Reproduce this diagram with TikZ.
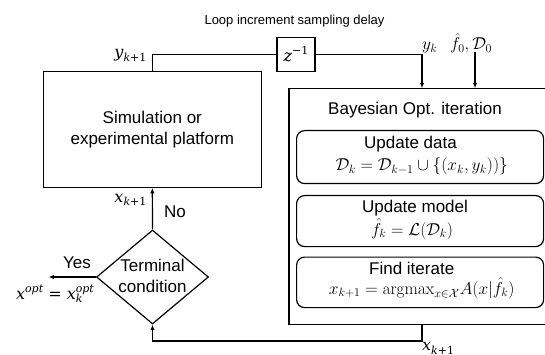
\documentclass[tikz,border=0pt]{standalone}
\usepackage[no-math]{fontspec}
\setmainfont{Liberation Sans}
\newfontfamily\camfont{DejaVu Serif}
\usetikzlibrary{arrows.meta,shapes.geometric}
\newcommand{\csup}[1]{\raisebox{6.5pt}{\fontsize{11}{12}\selectfont #1}}
\newcommand{\csub}[1]{\raisebox{-3.8pt}{\fontsize{11}{12}\selectfont #1}}
\tikzset{
  txt/.style={font=\fontsize{17}{20.5}\selectfont, inner sep=0pt, align=center},
  mth/.style={font=\fontsize{17.8}{21}\selectfont, inner sep=0pt},
  cam/.style={font=\camfont\fontsize{16}{18}\selectfont, inner sep=0pt},
  sqbox/.style={draw, inner sep=0pt},
  rbox/.style={draw, rounded corners=8pt, inner sep=0pt, minimum width=247pt, anchor=north west},
  ln/.style={line width=1.2pt},
  arr/.style={line width=1.2pt, -{Latex[length=5.5pt,width=4.5pt]}},
}
\begin{document}
\begin{tikzpicture}[x=1pt,y=-1pt, line width=1.2pt]
\useasboundingbox (0,0) rectangle (545,355);
\clip (0,0) rectangle (545,355);
% boxes
\node[sqbox, txt, minimum width=218pt, minimum height=115.6pt] (sim) at (152.3,129.5) {Simulation or\\experimental platform};
\node[sqbox, minimum width=280pt, minimum height=235.7pt, anchor=north west] (bo) at (288.3,88.3) {};
\node[sqbox, cam, minimum width=38pt, minimum height=34pt] (z) at (296,54.3) {\itshape z\upshape\csup{\char"2212 1}};
\node[rbox, minimum height=53pt] (ud) at (296,130) {};
\node[rbox, minimum height=51pt] (um) at (296,195) {};
\node[rbox, minimum height=50.5pt] (fi) at (296,256.5) {};
\node[draw, diamond, minimum width=112pt, minimum height=94pt, inner sep=0pt] (dia) at (152.5,277) {};
% texts
\node[font=\fontsize{13}{15}\selectfont, inner sep=0pt, anchor=base] (loop) at (294.5,25) {Loop increment sampling delay};
\node[txt, anchor=base] (bay) at (415,115) {Bayesian Opt. iteration};
\node[txt, anchor=base] (udt) at (410.5,148.3) {Update data};
\node[mth, anchor=base] (udm) at (421.7,171) {$\mathcal{D}_k=\mathcal{D}_{k-1}\cup\{(x_k,y_k))\}$};
\node[txt, anchor=base] (umt) at (415,212.3) {Update model};
\node[mth, anchor=base] (umm) at (412,235) {$\hat{f}_k=\mathcal{L}(\mathcal{D}_k)$};
\node[txt, anchor=base] (fit) at (411.7,274.3) {Find iterate};
\node[mth, anchor=base] (fim) at (421.7,294) {$x_{k+1}=\mathrm{argmax}_{x\in\mathcal{X}}A(x|\hat{f}_k)$};
\node[txt] (term) at (152.5,276) {Terminal\\condition};
\node[txt, anchor=base] (no) at (175,217.3) {No};
\node[txt, anchor=base] (yes) at (77,268.3) {Yes};
\node[cam, anchor=base] (xopt) at (55,299) {\itshape x\csup{opt}\upshape\ =\ \itshape x\rlap{\csub{k}}\csup{opt}};
\node[cam, anchor=base east] (xk1a) at (147,202) {\itshape x\csub{k\upshape+1}};
\node[cam, anchor=base east] (yk1) at (147,58) {\itshape y\csub{k\upshape+1}};
\node[mth, anchor=base west] (yk) at (421.5,49.5) {$y_k$};
\node[mth, anchor=base] (f0) at (471,50) {$\hat{f}_0,\mathcal{D}_0$};
\node[cam, anchor=base west] (xk1b) at (421.5,350.5) {\itshape x\csub{k\upshape+1}};
% coordinates
\coordinate (ykin) at (422,88.3);
\coordinate (f0s) at (475,52.5);
\coordinate (f0e) at (475,88.3);
\coordinate (xo) at (422,324);
\coordinate (xb) at (422,341);
\coordinate (yesend) at (48.5,277);
% connectors
\draw[ln] (sim.north) |- (z.west);
\draw[arr] (z.east) -| (ykin);
\draw[arr] (f0s) -- (f0e);
\draw[arr] (xo) -- (xb) -| (dia.south);
\draw[arr] (dia.north) -- (sim.south);
\draw[arr] (dia.west) -- (yesend);
\end{tikzpicture}
\end{document}
